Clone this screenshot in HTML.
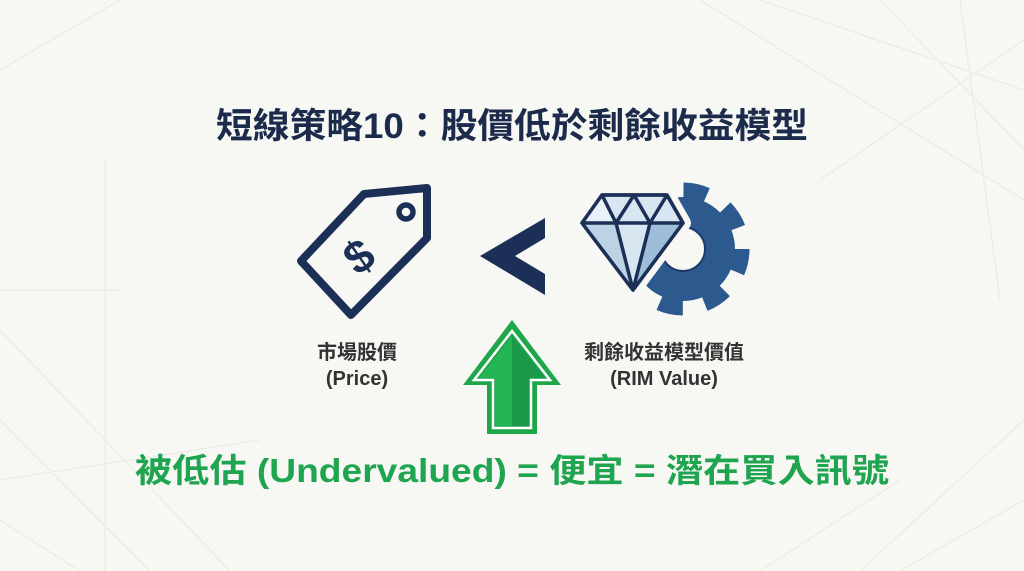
<!DOCTYPE html>
<html><head><meta charset="utf-8"><style>
html,body{margin:0;padding:0;background:#f7f7f3;}
svg{display:block}
</style></head><body>
<svg width="1024" height="571" viewBox="0 0 1024 571" xmlns="http://www.w3.org/2000/svg">
<rect width="1024" height="571" fill="#f7f7f3"/>
<g stroke="#ebebe6" stroke-width="1.2" fill="none">
<line x1="700" y1="0" x2="1024" y2="200"/>
<line x1="760" y1="0" x2="1024" y2="90"/>
<line x1="880" y1="0" x2="1024" y2="150"/>
<line x1="1024" y1="40" x2="820" y2="180"/>
<line x1="960" y1="0" x2="1000" y2="300"/>
<line x1="0" y1="330" x2="230" y2="571"/>
<line x1="0" y1="420" x2="150" y2="571"/>
<line x1="0" y1="480" x2="260" y2="440"/>
<line x1="105" y1="160" x2="105" y2="571"/>
<line x1="0" y1="290" x2="120" y2="290"/>
<line x1="0" y1="70" x2="120" y2="0"/>
<line x1="860" y1="571" x2="1024" y2="420"/>
<line x1="900" y1="571" x2="1024" y2="500"/>
<line x1="760" y1="571" x2="900" y2="480"/>
<line x1="0" y1="520" x2="80" y2="571"/>
</g>
<text x="512" y="138" text-anchor="middle" font-family="Liberation Sans, Noto Sans CJK TC, sans-serif" font-weight="bold" font-size="35" fill="#1c2b4b" textLength="592" lengthAdjust="spacingAndGlyphs">短線策略10：股價低於剩餘收益模型</text>

<!-- price tag -->
<path d="M301,261 L364,194 L427,188 L427,238 L351,315 Z" fill="none" stroke="#1c3057" stroke-width="8" stroke-linejoin="round"/>
<circle cx="406" cy="212" r="7" fill="none" stroke="#1c3057" stroke-width="5.5"/>
<text x="360" y="272" text-anchor="middle" transform="rotate(-35 360 258)" font-family="Liberation Sans, sans-serif" font-weight="bold" font-size="46" fill="#1c3057">$</text>

<!-- less than -->
<path d="M545,218 L480,256 L545,295 L545,274 L515,256 L545,238 Z" fill="#1c3057"/>

<!-- gear -->
<g fill="none">
<circle cx="683" cy="249" r="59" stroke="#2d5a8e" stroke-width="15" stroke-dasharray="24 22.4"/>
<circle cx="683" cy="249" r="37" stroke="#2d5a8e" stroke-width="30"/>
<circle cx="683" cy="249" r="22" stroke="#1c3a66" stroke-width="2"/>
</g>
<!-- diamond -->
<g stroke="#1c3057" stroke-width="3.5" stroke-linejoin="round">
<path d="M602,195 L667,195 L683,223 L633,290 L582,223 Z" fill="#cfe0ee" stroke="#f7f7f3" stroke-width="16"/>
<path d="M602,195 L667,195 L683,223 L633,290 L582,223 Z" fill="#d8e6f2"/>
<path d="M650,223 L633,290 L683,223 Z" fill="#9dbdd8" stroke="none"/>
<path d="M582,223 L616,223 L633,290 Z" fill="#bcd3e6" stroke="none"/>
<path d="M602,195 L616,223 L582,223 Z" fill="#e8f1f8" stroke="none"/>
<path d="M602,195 L667,195 L683,223 L633,290 L582,223 Z M582,223 L683,223 M602,195 L616,223 L634,195 L650,223 L667,195 M616,223 L633,290 L650,223" fill="none"/>
</g>

<g font-family="Liberation Sans, Noto Sans CJK TC, sans-serif" font-weight="bold" font-size="20" fill="#333" text-anchor="middle">
<text x="357" y="359">市場股價</text>
<text x="357" y="385">(Price)</text>
<text x="664" y="359">剩餘收益模型價值</text>
<text x="664" y="385">(RIM Value)</text>
</g>

<!-- arrow -->
<path d="M512,320 L561,385 L537,385 L537,434 L487,434 L487,385 L463,385 Z" fill="#1ea64b"/>
<path d="M512,331 L550,380 L531,380 L531,428 L493,428 L493,380 L474,380 Z" fill="none" stroke="#fff" stroke-width="2.5"/>
<path d="M512,336 L545,378 L529,378 L529,426 L495,426 L495,378 L479,378 Z" fill="#22b455"/>
<path d="M512,336 L545,378 L529,378 L529,426 L512,426 Z" fill="#1a9a48"/>

<text x="512" y="482" text-anchor="middle" font-family="Liberation Sans, Noto Sans CJK TC, sans-serif" font-weight="bold" font-size="33" fill="#1fa44f" textLength="754" lengthAdjust="spacingAndGlyphs">被低估 (Undervalued) = 便宜 = 潛在買入訊號</text>
</svg>
</body></html>
